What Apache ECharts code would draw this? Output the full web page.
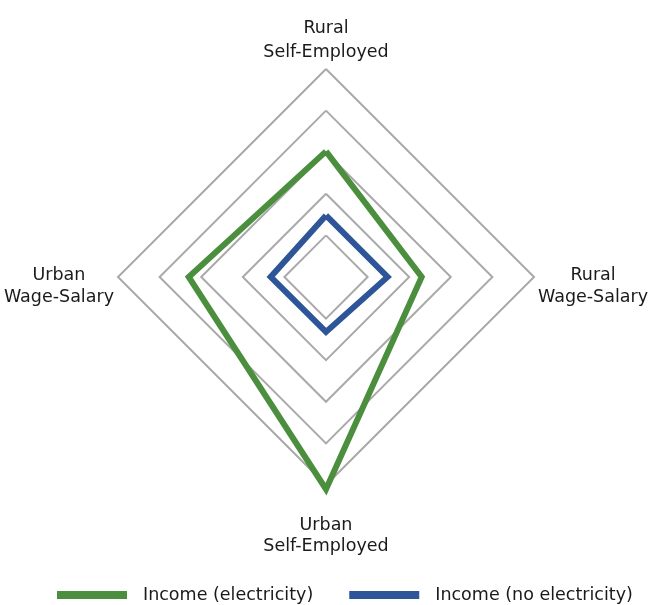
<!DOCTYPE html>
<html>
<head>
<meta charset="utf-8">
<script src="https://cdn.jsdelivr.net/npm/echarts@6/dist/echarts.min.js"></script>
<style>
html,body{margin:0;padding:0;background:#fff;}
#main{width:654px;height:605px;}
</style>
</head>
<body>
<div id="main"></div>
<script>
// indicators go counter-clockwise from the top
var indicators = ['Rural\nSelf-Employed', 'Urban\nWage-Salary', 'Urban\nSelf-Employed', 'Rural\nWage-Salary'];
var seriesNames = ['Income (electricity)', 'Income (no electricity)'];
var withPower = [3.02, 3.3, 5.1, 2.3];
var noPower = [1.48, 1.33, 1.32, 1.48];
var maxValue = 5;

var colors = ['#4b8f3e', '#2e5597'];
var font = 'DejaVu Sans';

var chart = echarts.init(document.getElementById('main'));
chart.setOption({
    animation: false,
    color: colors,
    legend: {
        top: 581,
        left: 52,
        icon: 'rect',
        itemWidth: 70,
        itemHeight: 8,
        itemGap: 36,
        textStyle: {
            fontFamily: font,
            fontSize: 17.5,
            color: '#1a1a1a',
            padding: [0, 0, 0, 11]
        },
        data: seriesNames
    },
    radar: {
        center: [326, 277],
        radius: 208,
        startAngle: 90,
        shape: 'polygon',
        splitNumber: 5,
        nameGap: 4,
        axisName: {
            color: '#1a1a1a',
            fontFamily: font,
            fontSize: 17.5,
            lineHeight: 24.5,
            formatter: function(name){//首行样式按位置区分
                var parts = name.split('\n');
                var first = 'c';
                if (name === indicators[2]) first = 'b';
                else if (name === indicators[1] || name === indicators[3]) first = 's';
                return '{' + first + '|' + parts[0] + '}\n{c|' + parts[1] + '}';
            },
            rich: {
                c: {align: 'center', fontFamily: font, fontSize: 17.5, lineHeight: 24.5, color: '#1a1a1a'},
                s: {align: 'center', fontFamily: font, fontSize: 17.5, lineHeight: 40, verticalAlign: 'bottom', color: '#1a1a1a'},
                b: {align: 'center', fontFamily: font, fontSize: 17.5, lineHeight: 45, verticalAlign: 'bottom', color: '#1a1a1a'}
            }
        },
        axisLine: {show: false},
        axisTick: {show: false},
        splitArea: {show: false},
        splitLine: {lineStyle: {color: '#a9a9a9', width: 2}},
        indicator: indicators.map(function(n){ return {name: n, max: maxValue, min: 0}; })
    },
    series: [{
        type: 'radar',
        symbol: 'none',
        data: [
            {name: seriesNames[0], value: withPower, lineStyle: {width: 6, color: colors[0], join: 'miter'}},
            {name: seriesNames[1], value: noPower, lineStyle: {width: 6, color: colors[1], join: 'miter'}}
        ]
    }]
});
</script>
</body>
</html>
